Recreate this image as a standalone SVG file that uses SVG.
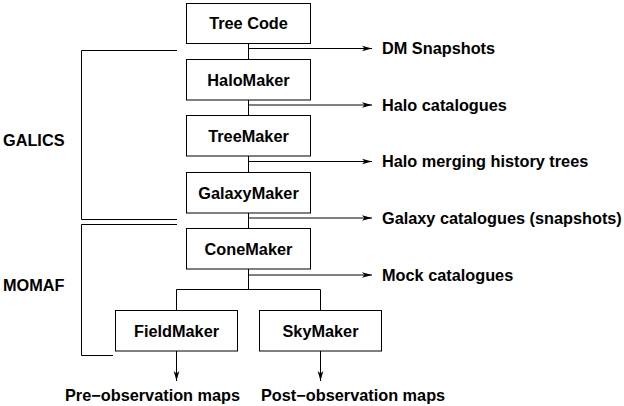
<svg xmlns="http://www.w3.org/2000/svg" width="624" height="406" viewBox="0 0 624 406">
<style>
.box{fill:#fff;stroke:#000;stroke-width:1}
.ln{fill:none;stroke:#000;stroke-width:1}
.t{font-family:"Liberation Sans",Arial,sans-serif;font-weight:bold;font-size:16.3px;fill:#000}
.c{text-anchor:middle}
</style>
<defs>
<marker id="ah" markerUnits="userSpaceOnUse" markerWidth="12" markerHeight="8" refX="10" refY="4" orient="auto">
<path d="M0,1.2 L10,4 L0,6.8 L2.5,4 Z" fill="#000"/>
</marker>
</defs>
<rect width="624" height="406" fill="#fff"/>
<g id="connectors">
<path class="ln" d="M248.5,43 V59.5"/>
<path class="ln" d="M248.5,100 V116"/>
<path class="ln" d="M248.5,156 V172.5"/>
<path class="ln" d="M248.5,213 V229"/>
<path class="ln" d="M248.5,48.5 H372" marker-end="url(#ah)"/>
<path class="ln" d="M248.5,105 H372" marker-end="url(#ah)"/>
<path class="ln" d="M248.5,161.5 H372" marker-end="url(#ah)"/>
<path class="ln" d="M248.5,218 H372" marker-end="url(#ah)"/>
<path class="ln" d="M248.5,275 H372" marker-end="url(#ah)"/>
<path class="ln" d="M248.5,269 V289.5 M176.5,310 V289.5 H320.5 V310"/>
<path class="ln" d="M176.5,351 V381" marker-end="url(#ah)"/>
<path class="ln" d="M320.5,351 V381" marker-end="url(#ah)"/>
<path class="ln" d="M177,50.5 H81.5 V219.5 H177"/>
<path class="ln" d="M177,224.5 H81.5 V355.5 H113"/>
</g>
<g id="treecode"><rect class="box" x="186.5" y="3.5" width="124" height="40"/><text class="t c" x="248.5" y="29">Tree Code</text></g>
<g id="halomaker"><rect class="box" x="186.5" y="59.5" width="124" height="40.5"/><text class="t c" x="248.5" y="85.5">HaloMaker</text></g>
<g id="treemaker"><rect class="box" x="186.5" y="115.5" width="124" height="40.5"/><text class="t c" x="248.5" y="141.5">TreeMaker</text></g>
<g id="galaxymaker"><rect class="box" x="186.5" y="172.5" width="124" height="40.5"/><text class="t c" x="248.5" y="198.5">GalaxyMaker</text></g>
<g id="conemaker"><rect class="box" x="186.5" y="228.5" width="124" height="40.5"/><text class="t c" x="248.5" y="254.5">ConeMaker</text></g>
<g id="fieldmaker"><rect class="box" x="115.5" y="310.5" width="122" height="40.5"/><text class="t c" x="176.5" y="336.5">FieldMaker</text></g>
<g id="skymaker"><rect class="box" x="259.5" y="310.5" width="122" height="40.5"/><text class="t c" x="320.5" y="336.5">SkyMaker</text></g>
<g id="labels">
<text class="t" x="382" y="54">DM Snapshots</text>
<text class="t" x="382" y="110.5">Halo catalogues</text>
<text class="t" x="382" y="167">Halo merging history trees</text>
<text class="t" x="382" y="223.5">Galaxy catalogues (snapshots)</text>
<text class="t" x="382" y="280.5">Mock catalogues</text>
<text class="t" x="3" y="146">GALICS</text>
<text class="t" x="3" y="291">MOMAF</text>
<text class="t" x="65" y="401">Pre−observation maps</text>
<text class="t" x="261" y="401">Post−observation maps</text>
</g>
</svg>
